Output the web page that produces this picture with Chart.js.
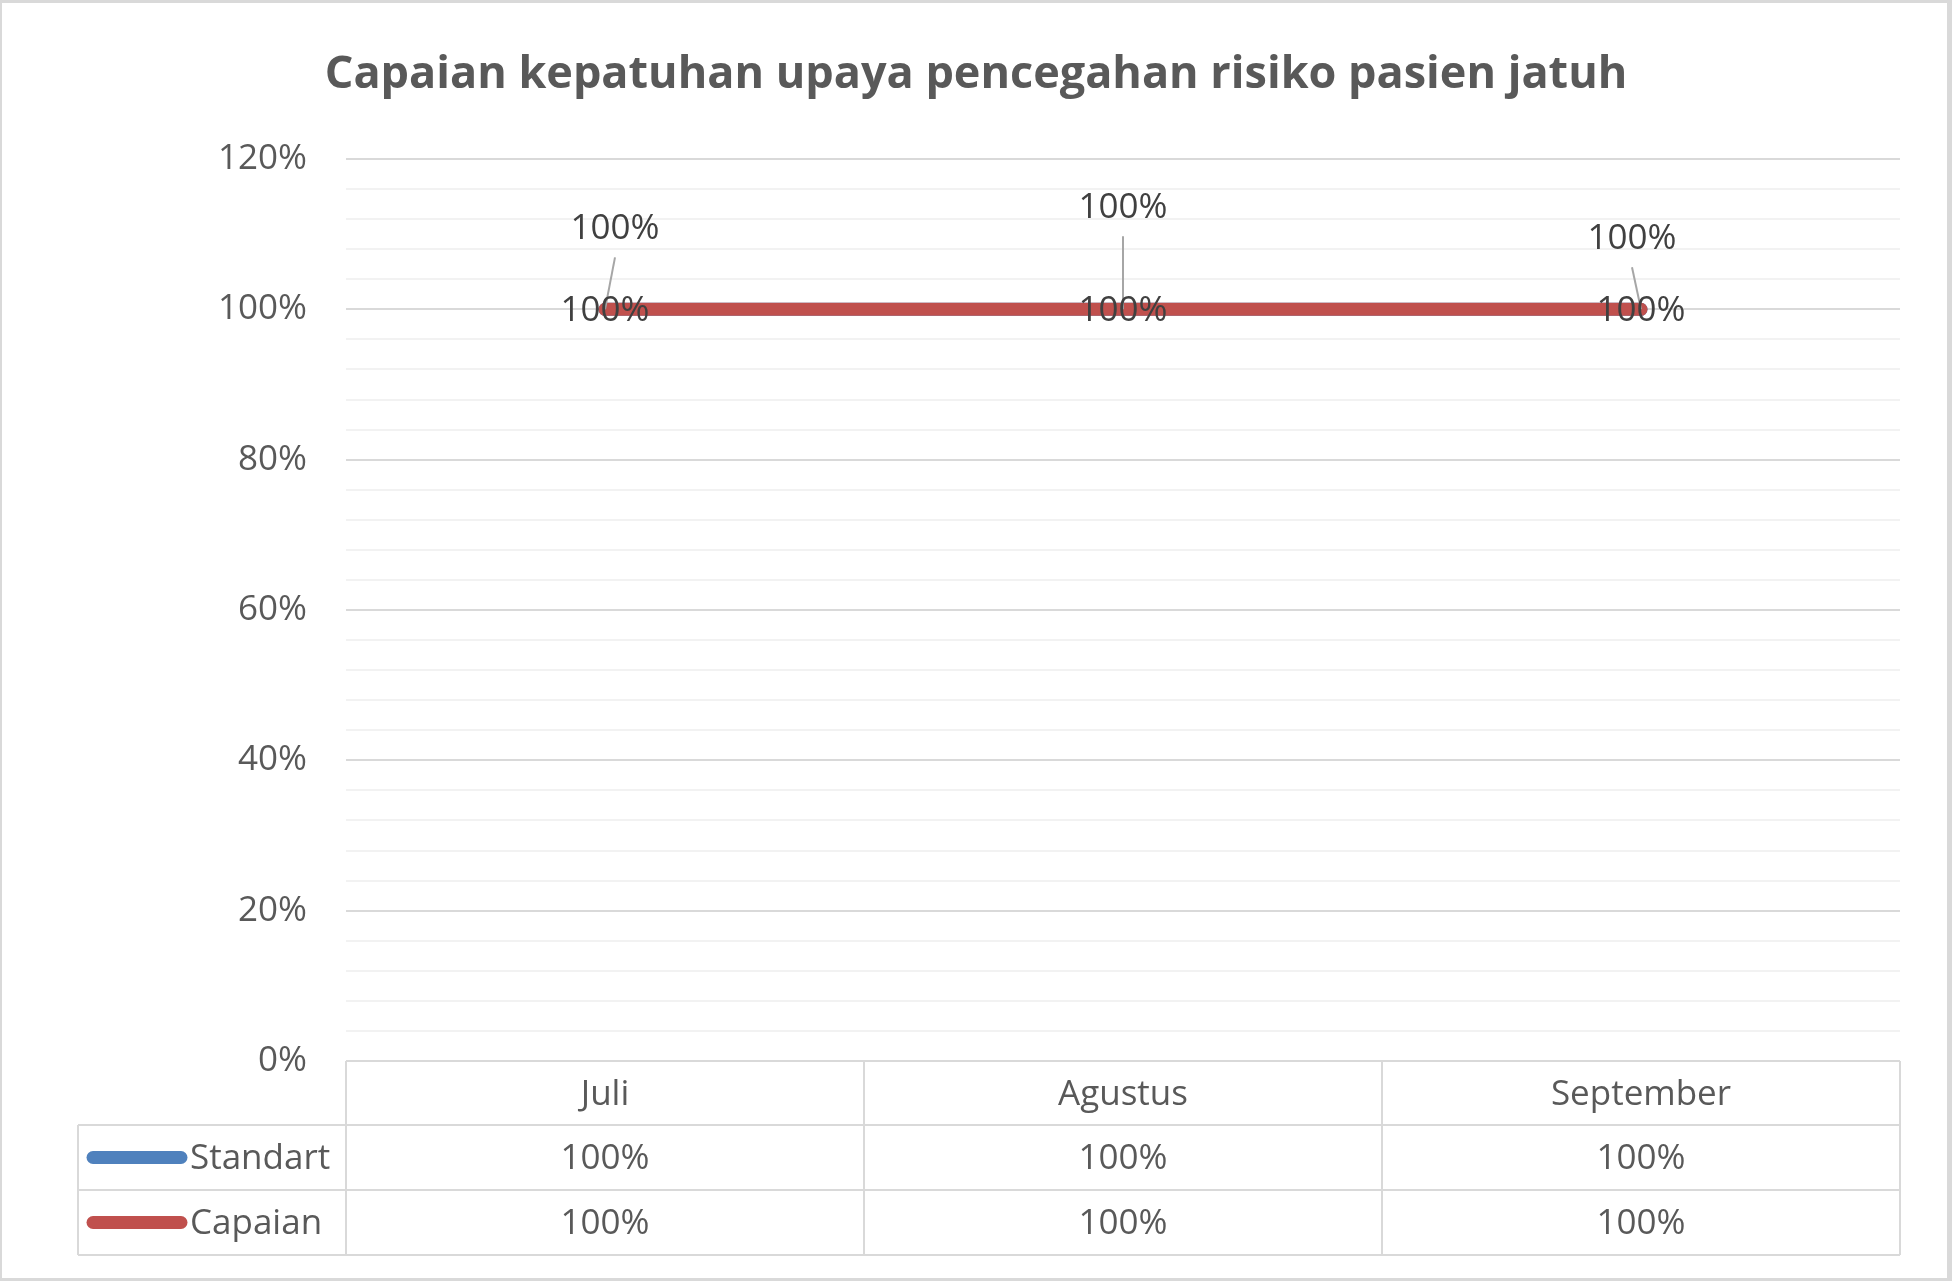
<!DOCTYPE html>
<html>
<head>
<meta charset="utf-8">
<script src="https://cdn.jsdelivr.net/npm/chart.js@4"></script>
<style>
  html, body { margin: 0; padding: 0; background: #fff; }
  #wrap { width: 1952px; height: 1281px; position: relative; }
</style>
</head>
<body>
<div id="wrap"><canvas id="chart"></canvas></div>
<script>
const chartTitle = "Capaian kepatuhan upaya pencegahan risiko pasien jatuh";
const months = ["Juli", "Agustus", "September"];
const standart = [100, 100, 100];
const capaian = [100, 100, 100];
const yMajorTicks = [0, 20, 40, 60, 80, 100, 120];

const FONT = '"Open Sans", sans-serif';
const BLUE = "#4F81BD";
const RED = "#C0504D";
const GRID = "#d9d9d9";
const GRID_MINOR = "#f2f2f2";
const TXT_DY = 2; // Open Sans sits a bit higher than the original font

// Standart labels were dragged off the points in the original, keep those shifts
const standartLabelShift = [[10, -82], [0, -103], [-9, -72]];

const pct = v => v + "%";

const tablePlugin = {
    id: "tablePlugin",
    beforeDraw(chart) {
        const ctx = chart.ctx;
        ctx.save();
        ctx.fillStyle = GRID;
        ctx.fillRect(0, 0, chart.width, chart.height);
        ctx.fillStyle = "#fff";
        ctx.fillRect(2, 3, chart.width - 7, chart.height - 6);
        ctx.restore();
    },
    afterDatasetsDraw(chart) {
        const ctx = chart.ctx;
        const area = chart.chartArea;
        const x = chart.scales.x;

        // title
        ctx.save();
        ctx.fillStyle = "#595959";
        ctx.font = "bold 45px " + FONT;
        ctx.textAlign = "center";
        ctx.textBaseline = "middle";
        ctx.fillText(chartTitle, chart.width / 2, 75);

        // data labels
        const stdMeta = chart.getDatasetMeta(0);
        const capMeta = chart.getDatasetMeta(1);
        ctx.font = "35px " + FONT;
        ctx.strokeStyle = "#a6a6a6";
        ctx.lineWidth = 2;
        stdMeta.data.forEach((pt, i) => {
            const lx = pt.x + standartLabelShift[i][0];
            const ly = pt.y + standartLabelShift[i][1];
            ctx.beginPath();
            ctx.moveTo(lx, ly + 30);
            ctx.lineTo(pt.x, pt.y);
            ctx.stroke();
        });
        ctx.fillStyle = "#404040";
        stdMeta.data.forEach((pt, i) => {
            ctx.fillText(pct(standart[i]), pt.x + standartLabelShift[i][0], pt.y + standartLabelShift[i][1] + TXT_DY);
        });
        capMeta.data.forEach((pt, i) => {
            ctx.fillText(pct(capaian[i]), pt.x, pt.y + TXT_DY);
        });

        // data table
        const step = x.getPixelForValue(1) - x.getPixelForValue(0);
        const edges = months.map((m, i) => x.getPixelForValue(i) - step / 2);
        edges.push(x.getPixelForValue(months.length - 1) + step / 2);
        const top = area.bottom;
        const rows = [top, top + 64, top + 129, top + 194];
        const tableLeft = 78;

        ctx.strokeStyle = GRID;
        ctx.lineWidth = 2;
        ctx.beginPath();
        ctx.moveTo(edges[0], rows[0]); ctx.lineTo(edges[edges.length - 1], rows[0]);
        for (let r = 1; r < rows.length; r++) {
            ctx.moveTo(tableLeft, rows[r]); ctx.lineTo(edges[edges.length - 1], rows[r]);
        }
        ctx.moveTo(tableLeft, rows[1]); ctx.lineTo(tableLeft, rows[3]);
        edges.forEach(e => { ctx.moveTo(e, rows[0]); ctx.lineTo(e, rows[3]); });
        ctx.stroke();

        ctx.fillStyle = "#595959";
        months.forEach((m, i) => {
            const cx = x.getPixelForValue(i);
            ctx.fillText(m, cx, (rows[0] + rows[1]) / 2 + TXT_DY);
            ctx.fillText(pct(standart[i]), cx, (rows[1] + rows[2]) / 2 + TXT_DY);
            ctx.fillText(pct(capaian[i]), cx, (rows[2] + rows[3]) / 2 + TXT_DY);
        });

        // legend keys inside the table
        const series = [["Standart", BLUE], ["Capaian", RED]];
        ctx.textAlign = "left";
        ctx.lineCap = "round";
        series.forEach(([name, color], r) => {
            const cy = (rows[r + 1] + rows[r + 2]) / 2;
            ctx.strokeStyle = color;
            ctx.lineWidth = 13;
            ctx.beginPath();
            ctx.moveTo(93, cy); ctx.lineTo(181, cy);
            ctx.stroke();
            ctx.fillStyle = "#595959";
            ctx.fillText(name, 190, cy + TXT_DY);
        });
        ctx.restore();
    }
};

new Chart(document.getElementById("chart"), {
    type: "line",
    data: {
        labels: months,
        datasets: [
            { label: "Standart", data: standart, borderColor: BLUE, backgroundColor: BLUE, order: 1 },
            { label: "Capaian", data: capaian, borderColor: RED, backgroundColor: RED, order: 0 }
        ]
    },
    options: {
        responsive: true,
        maintainAspectRatio: false,
        animation: false,
        layout: { padding: { top: 159, bottom: 220, left: 0, right: 52 } },
        elements: {
            line: { borderWidth: 13, borderCapStyle: "round", tension: 0 },
            point: { radius: 0, hoverRadius: 0 }
        },
        plugins: { legend: { display: false }, title: { display: false }, tooltip: { enabled: false } },
        scales: {
            x: { type: "category", offset: true, display: false },
            y: {
                min: 0, max: 120,
                afterFit: s => { s.width = 346; },
                border: { display: false },
                grid: {
                    drawTicks: false,
                    lineWidth: 2,
                    color: c => (c.tick && yMajorTicks.includes(c.tick.value)) ? GRID : GRID_MINOR
                },
                ticks: {
                    stepSize: 4,
                    autoSkip: false,
                    padding: 39,
                    color: "#595959",
                    font: { family: FONT, size: 35 },
                    callback: v => yMajorTicks.includes(v) ? pct(v) : ""
                }
            }
        }
    },
    plugins: [tablePlugin]
});
</script>
</body>
</html>
